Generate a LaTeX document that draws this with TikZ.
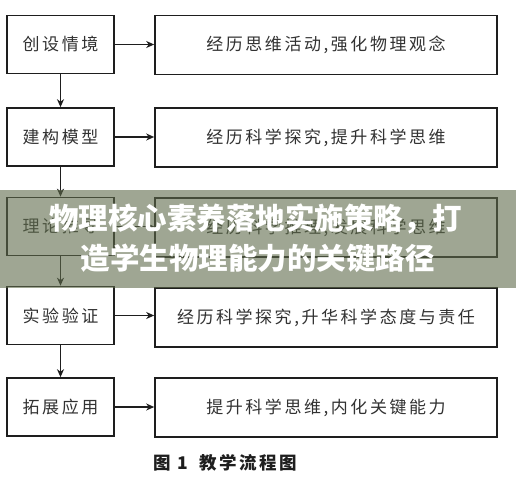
\documentclass[tikz,border=0pt]{standalone}
\usepackage{fontspec}
\newfontfamily\cjk{Noto Sans CJK SC}[LetterSpace=15]
\newfontfamily\cjkt{Noto Sans CJK SC}
\usetikzlibrary{arrows.meta}
\definecolor{ink}{RGB}{30,30,30}
\definecolor{txt}{RGB}{50,50,50}
\definecolor{veil}{RGB}{95,108,75}
\tikzset{
  lbox/.style={draw=ink, line width=1.6pt, minimum width=107pt, minimum height=58pt, inner sep=0pt, font=\cjk\fontsize{17}{20}\selectfont, text=txt},
  rbox/.style={draw=ink, line width=1.6pt, minimum width=342pt, minimum height=59pt, inner sep=0pt, font=\cjk\fontsize{17}{20}\selectfont, text=txt},
  arr/.style={draw=ink, line width=1.3pt, -{Stealth[length=8pt,width=7pt,inset=2.5pt]}},
  bannertext/.style={text=white, font=\cjkt\bfseries\fontsize{29.5}{34}\selectfont, inner sep=0pt}
}
\begin{document}
\begin{tikzpicture}[x=1pt,y=-1pt]
\useasboundingbox (0,0) rectangle (516,481);
\fill[white] (0,0) rectangle (516,481);
% left boxes
\node[lbox] (l1) at (60.5,44.5) {创设情境};
\node[lbox] (l2) at (60.5,137) {建构模型};
\node[lbox] (l3) at (60.5,226.5) {理论推导};
\node[lbox] (l4) at (60.5,315.5) {实验验证};
\node[lbox] (l5) at (60.5,407) {拓展应用};
% right boxes
\node[rbox] (r1) at (326,45) {经历思维活动,强化物理观念};
\node[rbox] (r2) at (326,137.5) {经历科学探究,提升科学思维};
\node[rbox] (r3) at (326,227.5) {经历科学推理,发展科学思维};
\node[rbox] (r4) at (326,317.5) {经历科学探究,升华科学态度与责任};
\node[rbox] (r5) at (326,407.5) {提升科学思维,内化关键能力};
% arrows
\foreach \a/\b in {l1/l2,l2/l3,l3/l4,l4/l5}{\draw[arr] (\a.south) -- (\b.north);}
\foreach \i in {1,...,5}{\draw[arr] (l\i.east) -- (r\i.west |- l\i.east);}
% caption
\node[font=\cjkt\bfseries\fontsize{17.5}{20}\selectfont, text=ink, anchor=west, inner sep=0pt] (cap) at (153,463) {图\hspace{7pt}1\hspace{11pt}\addfontfeature{LetterSpace=14}教学流程图};
% banner
\fill[veil, opacity=0.6] (0,190) rectangle (516,288);
\node[bannertext] (b1) at (255.5,219) {物理核心素养落地实施策略，打};
\node[bannertext] (b2) at (257.5,258) {造学生物理能力的关键路径};
\end{tikzpicture}
\end{document}
